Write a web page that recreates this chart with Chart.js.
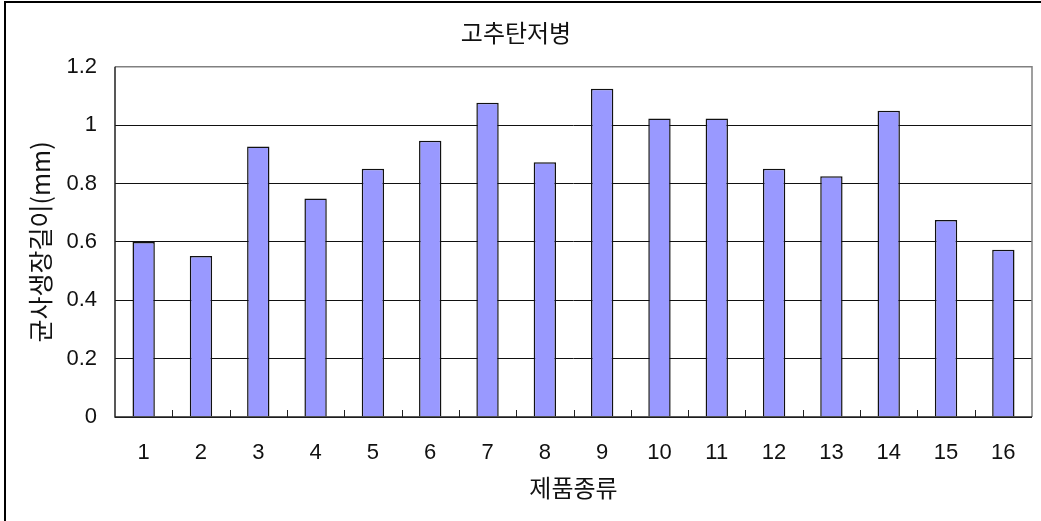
<!DOCTYPE html>
<html>
<head>
<meta charset="utf-8">
<script src="https://cdn.jsdelivr.net/npm/chart.js@4/dist/chart.umd.min.js"></script>
<style>
  html, body { margin: 0; padding: 0; background: #fff; }
  #wrap { width: 1041px; height: 521px; position: relative; }
</style>
</head>
<body>
<div id="wrap"><canvas id="chart"></canvas></div>
<script>
// ── Data ──
const categories = ["1", "2", "3", "4", "5", "6", "7", "8", "9", "10", "11", "12", "13", "14", "15", "16"];
const growth     = [0.60, 0.552, 0.927, 0.749, 0.851, 0.947, 1.077, 0.873, 1.125, 1.023, 1.023, 0.851, 0.825, 1.049, 0.675, 0.573];
const yTicks     = [0, 0.2, 0.4, 0.6, 0.8, 1, 1.2];

const titleText  = "고추탄저병";
const xTitleText = "제품종류";
const yTitleText = "균사생장길이(mm)";

const NUM_FONT = "'Liberation Sans', Arial, 'Noto Sans CJK KR', sans-serif";
const KR_FONT  = "'Noto Sans CJK KR', 'Liberation Sans', sans-serif";

// ── Frame / plot border / inward x ticks ──
const excelFrame = {
  id: "excelFrame",
  afterDraw(chart) {
    const { ctx, chartArea: a, scales: { x } } = chart;
    ctx.save();
    // outer chart frame (top + left visible)
    ctx.strokeStyle = "#000";
    ctx.lineWidth = 2;
    ctx.beginPath();
    ctx.moveTo(5, 530);
    ctx.lineTo(5, 2);
    ctx.lineTo(1050, 2);
    ctx.stroke();
    // plot area: grey top/right, dark left/bottom
    ctx.lineWidth = 1.5;
    ctx.strokeStyle = "#808080";
    ctx.beginPath();
    ctx.moveTo(a.left, a.top);
    ctx.lineTo(a.right, a.top);
    ctx.lineTo(a.right, a.bottom);
    ctx.stroke();
    ctx.strokeStyle = "#222";
    ctx.beginPath();
    ctx.moveTo(a.left, a.top);
    ctx.lineTo(a.left, a.bottom);
    ctx.lineTo(a.right, a.bottom);
    ctx.stroke();
    // small inward tick marks between categories
    ctx.lineWidth = 1;
    ctx.beginPath();
    for (let i = 0; i < categories.length - 1; i++) {
      const px = Math.round((x.getPixelForValue(i) + x.getPixelForValue(i + 1)) / 2) + 0.5;
      ctx.moveTo(px, a.bottom);
      ctx.lineTo(px, a.bottom - 7);
    }
    ctx.stroke();
    ctx.restore();
  }
};

new Chart(document.getElementById("chart"), {
  type: "bar",
  data: {
    labels: categories,
    datasets: [{
      data: growth,
      backgroundColor: "#9999ff",
      borderColor: "#111",
      borderWidth: 1.5,
      categoryPercentage: 1,
      barPercentage: 0.39,
    }],
  },
  options: {
    responsive: true,
    maintainAspectRatio: false,
    animation: false,
    layout: { padding: { top: 0, right: 9, bottom: 0, left: 0 } },
    plugins: {
      legend: { display: false },
      tooltip: { enabled: false },
      title: {
        display: true,
        text: titleText,
        color: "#111",
        font: { family: KR_FONT, size: 24, weight: "normal", lineHeight: 1.2 },
        padding: { top: 18, bottom: 20 },
      },
    },
    scales: {
      x: {
        grid: { display: false },
        border: { display: false },
        ticks: { color: "#111", font: { family: NUM_FONT, size: 22 }, padding: 15, maxRotation: 0 },
        title: {
          display: true,
          text: xTitleText,
          color: "#111",
          font: { family: KR_FONT, size: 24, weight: "normal", lineHeight: 1.2 },
          padding: { top: 0, bottom: 19 },
        },
        afterFit(scale) { scale.height = 104; },
      },
      y: {
        min: 0,
        max: 1.2,
        afterBuildTicks(scale) { scale.ticks = yTicks.map(v => ({ value: v })); },
        grid: { color: "#111", lineWidth: 1, drawTicks: false },
        border: { display: false },
        ticks: {
          color: "#111",
          font: { family: NUM_FONT, size: 22 },
          padding: 18,
          callback: v => String(Math.round(v * 10) / 10),
        },
        title: {
          display: true,
          text: yTitleText,
          color: "#111",
          font: { family: KR_FONT, size: 25, weight: "normal", lineHeight: 1.2 },
          padding: { top: 25, bottom: 0 },
        },
        afterFit(scale) { scale.width = 115; },
      },
    },
  },
  plugins: [excelFrame],
});
</script>
</body>
</html>
